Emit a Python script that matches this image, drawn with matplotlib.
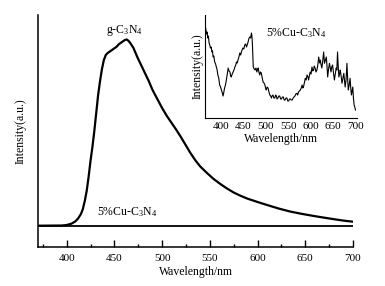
import matplotlib
matplotlib.use("Agg")
import matplotlib.pyplot as plt
from matplotlib.ticker import MultipleLocator

plt.rcParams['font.family'] = ['Liberation Serif', 'DejaVu Serif']
plt.rcParams['mathtext.fontset'] = 'custom'
plt.rcParams['mathtext.rm'] = 'Liberation Serif'
plt.rcParams['mathtext.it'] = 'Liberation Serif:italic'

# Main panel: g-C3N4 PL spectrum (a.u.)
gcn_wl = [370, 395, 400, 405, 409, 412, 415, 417, 419, 421, 423, 425, 427, 429, 431,
          433, 435, 437, 439, 441, 443, 446, 449, 452, 455, 458, 461, 463, 465, 467,
          470, 474, 478, 482, 486, 490, 495, 500, 505, 510, 515, 520, 525, 530, 535,
          540, 547, 554, 561, 568, 575, 582, 589, 600, 610, 622, 634, 646, 659, 670,
          680, 690, 699]
gcn_int = [21.3, 21.5, 22, 23.3, 25.5, 28.5, 33, 38, 46, 56, 70, 86, 100, 116, 134,
           152, 166, 178, 187, 192, 194, 196, 198, 200, 203, 205, 207, 207.5, 206, 203.5,
           199, 190, 182, 174, 166, 157, 148, 139, 131, 124, 117, 109.5, 101.5, 93.5, 86.5,
           80.5, 74, 68, 63, 58.5, 54.5, 51.3, 48.5, 45, 42, 38.5, 35.5, 33.2, 31, 29.3,
           27.8, 26.4, 25.4]
cu_wl = [370, 700]
cu_int = [21.3, 21.3]

# Inset: 5%Cu-C3N4 PL spectrum (a.u.)
ins_wl = [366, 367.5, 369, 370.5, 372, 373.5, 375, 376.5, 378, 380, 381, 382.5, 384, 386,
          388, 389.6, 391, 393, 395, 397, 399, 401, 403, 404.6, 406, 408, 410, 412,
          414, 416, 418, 420, 421.5, 423, 425, 427, 429, 431, 433, 434.5, 436, 438,
          440, 442, 444, 445.5, 447, 449, 451, 453, 455, 457, 459, 460.5, 462, 464,
          466, 468, 469, 470, 471, 472, 474, 476, 478, 480, 482, 483, 485, 486.7,
          488, 490, 492, 494, 496, 498, 500, 501, 503, 505, 507, 509, 511, 512.5,
          514, 516, 518, 520, 522, 523.5, 525, 527, 529, 531, 533, 535, 537, 539,
          541, 543, 545, 547, 549, 551, 553, 555, 557, 559, 561, 563, 565, 567,
          569.5, 571, 573, 575, 577, 579, 581, 582.5, 584, 586, 588, 590, 592, 594,
          595.5, 597, 599, 601, 603, 605, 606.6, 608, 610, 612, 614, 616, 618, 620,
          621.6, 623, 625, 627, 629, 630, 631, 633, 635, 636.5, 638, 640, 642, 644,
          645.5, 647, 649, 651, 653, 655, 657, 658.5, 660, 661.5, 663, 665, 666, 668,
          670, 672, 674, 675.5, 677, 679, 681, 682.5, 684, 686, 688, 689.5, 691, 692.5,
          694, 695.5, 697, 698.5, 700]
ins_int = [89.7, 84, 86, 80, 82, 75, 73, 70, 71, 66, 67, 61, 62, 56,
           54, 51, 49, 43, 40, 33, 31, 28, 25, 22, 25, 30, 33, 38,
           44, 50, 47, 46, 42, 41, 44, 46, 48, 51, 53, 56, 55, 58,
           61, 65, 63, 66, 68, 70, 69, 73, 74, 71, 74, 76, 79, 81,
           80, 85, 82, 75, 62, 51, 49, 48, 50, 46, 49, 50, 45, 43,
           46, 45, 40, 36, 35, 33, 29, 28, 31, 30, 26, 23, 22, 20,
           22, 23, 20, 20, 23, 22, 19, 20, 22, 22, 19, 19, 21, 21,
           18, 18, 20, 20, 17, 17, 19, 19, 18, 18, 20, 21, 22, 24,
           24.7, 23, 26, 27, 28, 30, 33, 30, 31, 35, 39.7, 38, 43, 41,
           38, 42, 46, 44, 51, 47, 48, 52, 50, 46, 48, 53, 61, 55,
           58, 54, 50, 57, 66, 60, 54.7, 58, 61, 52, 41, 49, 54.7, 50,
           46, 51, 53, 45, 38, 44, 50, 48, 66, 52, 41, 45, 48, 42,
           34.7, 40, 44.7, 38, 31, 38, 54.7, 40, 28, 33, 39.7, 30, 23, 27,
           31, 20, 13, 11, 8]

W, H = 385, 286
fig = plt.figure(figsize=(W / 100, H / 100), dpi=100)

ax = fig.add_axes([38 / W, 1 - 247 / H, 315 / W, 232 / H])
ax.plot(gcn_wl, gcn_int, color='black', lw=1.6)
ax.plot(cu_wl, cu_int, color='black', lw=1.3)
ax.set_xlim(370, 700)
ax.set_ylim(0, 232)
for s in ['top', 'right']:
    ax.spines[s].set_visible(False)
for s in ['left', 'bottom']:
    ax.spines[s].set_linewidth(1.1)
ax.set_yticks([])
ax.xaxis.set_major_locator(MultipleLocator(50))
ax.xaxis.set_minor_locator(MultipleLocator(25))
ax.tick_params(axis='x', which='major', direction='in', length=5, width=1, labelsize=8, pad=5)
ax.tick_params(axis='x', which='minor', direction='in', length=2.5, width=1)
ax.set_xlabel('Wavelength/nm', fontsize=8.5, labelpad=2)
ax.set_ylabel('Intensity(a.u.)', fontsize=8.5, labelpad=8)
ax.text(461, 216, 'g-C$_3$N$_4$', fontsize=8.5, ha='center', va='center')
ax.text(463, 34.5, '5%Cu-C$_3$N$_4$', fontsize=8.5, ha='center', va='center')

ins = fig.add_axes([205.3 / W, 1 - 118 / H, 151.5 / W, 103 / H])
ins.plot(ins_wl, ins_int, color='black', lw=0.8)
ins.set_xlim(365, 703)
ins.set_ylim(0, 103)
for s in ['top', 'right']:
    ins.spines[s].set_visible(False)
for s in ['left', 'bottom']:
    ins.spines[s].set_linewidth(0.8)
ins.set_yticks([])
ins.set_xticks([400, 450, 500, 550, 600, 650, 700])
ins.tick_params(axis='x', length=0, labelsize=8, pad=3)
ins.set_xlabel('Wavelength/nm', fontsize=8.5, labelpad=1)
ins.set_ylabel('Intensity(a.u.)', fontsize=8.5, labelpad=1)
ins.text(568, 85, '5%Cu-C$_3$N$_4$', fontsize=8.5, ha='center', va='center')

fig.savefig('out.png', dpi=100)
